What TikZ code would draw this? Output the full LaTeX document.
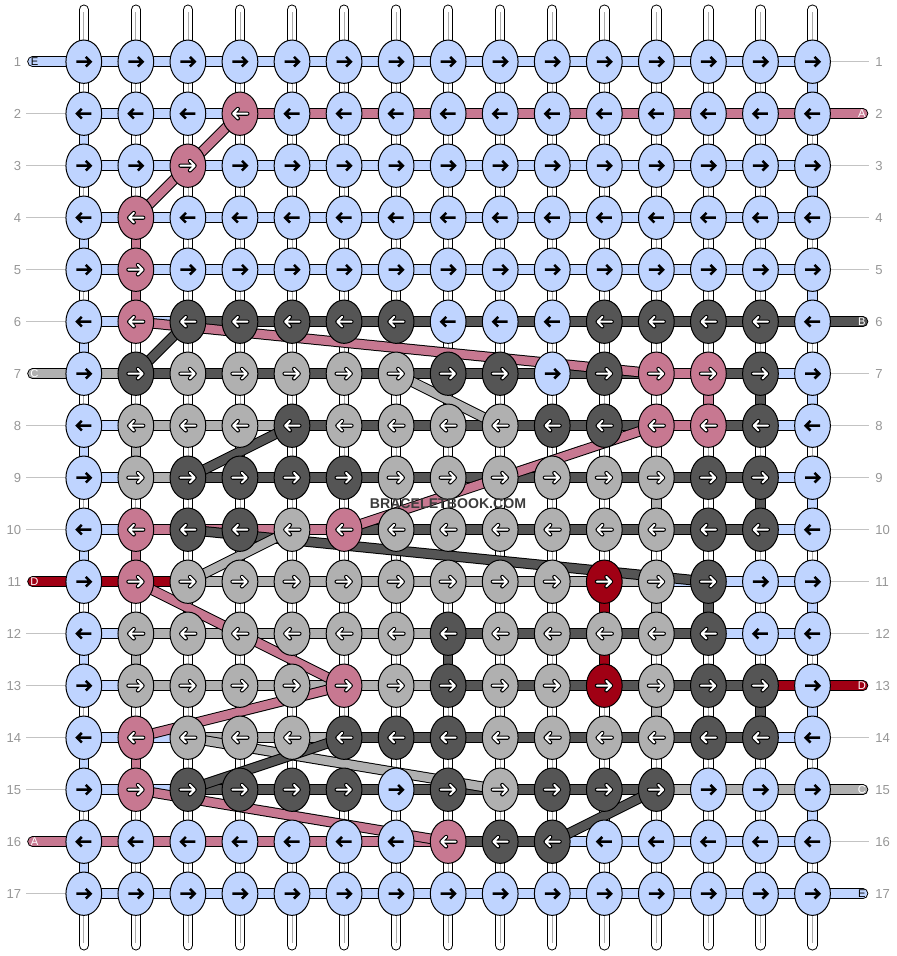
\documentclass[tikz,border=0pt]{standalone}
\usepackage{fontspec}
\setmainfont{Liberation Sans}
\usetikzlibrary{shapes.geometric}

\definecolor{sB}{RGB}{191,212,255}
\definecolor{sP}{RGB}{199,120,145}
\definecolor{sD}{RGB}{85,85,85}
\definecolor{sL}{RGB}{176,176,176}
\definecolor{sR}{RGB}{160,0,20}
\definecolor{numgray}{RGB}{150,150,150}
\definecolor{linegray}{RGB}{195,195,195}
\definecolor{warpgray}{RGB}{170,170,170}
\definecolor{markgray}{RGB}{60,60,60}

\pgfdeclarelayer{warp}
\pgfdeclarelayer{strand}
\pgfsetlayers{warp,strand,main}

\def\blueknot{B}

\begin{document}
\begin{tikzpicture}[x=0.75pt,y=0.75pt,yscale=-1,xscale=1,
	knot/.style={ellipse, draw=black, line width=0.75pt, minimum width=26.8pt, minimum height=32.5pt, inner sep=0pt},
	strand/.style={draw=black, line width=0.75pt, double=#1, double distance=6.4pt},
	warp/.style={draw=black, line width=0.75pt, double=white, double distance=6.3pt, line cap=round},
	warpmid/.style={draw=warpgray, line width=0.6pt, shorten <=2pt, shorten >=2pt},
	arrB/.style={draw=black, line width=1.9pt},
	arrW/.style={draw=white, line width=1.5pt, line cap=round, line join=round, preaction={draw=black, line width=3.1pt, line cap=round, line join=round}},
	rowline/.style={draw=linegray, line width=0.75pt},
	rownum/.style={text=numgray, font=\fontsize{9.8}{11}\selectfont, inner sep=0pt},
	endtag/.style={font=\fontsize{8.4}{9}\selectfont, inner sep=0pt},
	]
	\useasboundingbox (0,0) rectangle (896,956);
	
	% Knots
	\foreach \row [count=\r] in {
		{B,B,B,B,B,B,B,B,B,B,B,B,B,B,B},
		{B,B,B,P,B,B,B,B,B,B,B,B,B,B,B},
		{B,B,P,B,B,B,B,B,B,B,B,B,B,B,B},
		{B,P,B,B,B,B,B,B,B,B,B,B,B,B,B},
		{B,P,B,B,B,B,B,B,B,B,B,B,B,B,B},
		{B,P,D,D,D,D,D,B,B,B,D,D,D,D,B},
		{B,D,L,L,L,L,L,D,D,B,D,P,P,D,B},
		{B,L,L,L,D,L,L,L,L,D,D,P,P,D,B},
		{B,L,D,D,D,D,L,L,L,L,L,L,D,D,B},
		{B,P,D,D,L,P,L,L,L,L,L,L,D,D,B},
		{B,P,L,L,L,L,L,L,L,L,R,L,D,B,B},
		{B,L,L,L,L,L,L,D,L,L,L,L,D,B,B},
		{B,L,L,L,L,P,L,D,L,L,R,L,D,D,B},
		{B,P,L,L,L,D,D,D,L,L,L,L,D,D,B},
		{B,P,D,D,D,D,B,D,L,D,D,D,B,B,B},
		{B,B,B,B,B,B,B,P,D,D,B,B,B,B,B},
		{B,B,B,B,B,B,B,B,B,B,B,B,B,B,B}}{
		\pgfmathsetmacro\y{9.7+52*\r}
		\pgfmathsetmacro\dir{1-2*mod(\r+1,2)}
		\foreach \k [count=\c] in \row {
			\pgfmathsetmacro\x{31.75+52.05*\c}
			\node[knot, fill=s\k] (k-\r-\c) at (\x,\y) {};
			\edef\kk{\k}
			\ifx\kk\blueknot \def\arrsty{arrB}\else\def\arrsty{arrW}\fi
			\draw[\arrsty, shift={(\x,\y)}, xscale=\dir] (-7.5,0) -- (6.3,0) (2,-4.8) -- (6.8,0) -- (2,4.8);
		}
	}
	
	% Warp strands
	\begin{pgfonlayer}{warp}
		\foreach \c in {1,...,15}{
			\coordinate (wt-\c) at ({31.75+52.05*\c},9.7);
			\coordinate (wb-\c) at ({31.75+52.05*\c},945.3);
			\draw[warp] (wt-\c) -- (wb-\c);
			\draw[warpmid] (wt-\c) -- (wb-\c);
		}
	\end{pgfonlayer}
	
	\begin{pgfonlayer}{strand}
		%Straight Lines (down)
		\foreach \r/\c/\h in {1/15/B, 2/1/B, 3/15/B, 4/1/B, 4/2/P, 5/15/B, 5/2/P, 6/1/B,
			7/15/B, 7/13/P, 7/14/D, 8/1/B, 8/2/L, 9/15/B, 9/12/L, 9/14/D, 10/1/B, 10/2/P,
			11/15/B, 11/11/R, 11/12/L, 11/13/D, 12/1/B, 12/2/L, 12/8/D, 12/11/R,
			13/15/B, 13/12/L, 13/14/D, 14/1/B, 14/2/P, 15/15/B, 16/1/B}{
			\pgfmathtruncatemacro\n{\r+1}
			\draw[strand=s\h] (k-\r-\c.center) -- (k-\n-\c.center);
		}
		%Straight Lines (across)
		\foreach \row [count=\r] in {
			{B,B,B,B,B,B,B,B,B,B,B,B,B,B},
			{B,B,B,P,P,P,P,P,P,P,P,P,P,P},
			{B,B,B,B,B,B,B,B,B,B,B,B,B,B},
			{B,B,B,B,B,B,B,B,B,B,B,B,B,B},
			{B,B,B,B,B,B,B,B,B,B,B,B,B,B},
			{B,B,D,D,D,D,D,D,D,D,D,D,D,D},
			{L,D,D,D,D,D,D,D,D,D,D,P,D,B},
			{B,L,L,L,D,D,D,D,D,D,D,P,D,B},
			{B,L,D,D,D,D,D,D,D,D,D,D,D,B},
			{B,P,P,P,P,D,D,D,D,D,D,D,D,B},
			{R,R,L,L,L,L,L,L,L,L,L,B,B,B},
			{B,L,L,L,L,L,L,D,D,D,D,D,B,B},
			{B,L,L,L,L,L,L,D,D,D,D,D,D,R},
			{B,B,L,L,L,D,D,D,D,D,D,D,D,B},
			{B,B,D,D,D,D,D,D,D,D,D,L,L,L},
			{P,P,P,P,P,P,P,D,D,B,B,B,B,B},
			{B,B,B,B,B,B,B,B,B,B,B,B,B,B}}{
			\foreach \h [count=\c] in \row {
				\pgfmathtruncatemacro\n{\c+1}
				\draw[strand=s\h] (k-\r-\c.center) -- (k-\r-\n.center);
			}
		}
		% Strings at the edges
		\foreach \r/\h/\t/\tc in {1/B/E/black, 7/L/C/white, 11/R/D/white, 16/P/A/white}{
			\coordinate (le-\r) at (32.5,{9.7+52*\r});
			\draw[strand=s\h, line cap=round] (le-\r) -- (k-\r-1.center);
			\node[endtag, text=\tc] (tl-\r) at ([xshift=1.5pt]le-\r) {\t};
		}
		\foreach \r/\h/\t/\tc in {2/P/A/white, 6/D/B/white, 13/R/D/white, 15/L/C/white, 17/B/E/black}{
			\coordinate (re-\r) at (863,{9.7+52*\r});
			\draw[strand=s\h, line cap=round] (k-\r-15.center) -- (re-\r);
			\node[endtag, text=\tc] (tr-\r) at ([xshift=-0.8pt]re-\r) {\t};
		}
		\foreach \r in {2,3,4,5,6,8,9,10,12,13,14,15,17}{
			\coordinate (ll-\r) at (26,{9.7+52*\r});
			\draw[rowline] (ll-\r) -- (k-\r-1);
		}
		\foreach \r in {1,3,4,5,7,8,9,10,11,12,14,16}{
			\coordinate (rl-\r) at (869,{9.7+52*\r});
			\draw[rowline] (k-\r-15) -- (rl-\r);
		}
		%Straight Lines (carried)
		\foreach \ra/\ca/\rb/\cb/\h in {2/4/3/3/P, 3/3/4/2/P, 6/2/7/12/P, 6/3/7/2/D, 7/7/8/9/L,
			8/5/9/3/D, 8/12/10/6/P, 10/3/11/13/D, 10/5/11/3/L, 11/2/13/6/P, 13/6/14/2/P,
			14/3/15/9/L, 15/3/14/6/D, 15/2/16/8/P, 15/12/16/10/D}{
			\draw[strand=s\h] (k-\ra-\ca.center) -- (k-\rb-\cb.center);
		}
	\end{pgfonlayer}
	
	% Text Node
	\foreach \r in {1,...,17}{
		\node[rownum, anchor=east] (nl-\r) at (21.5,{9.7+52*\r}) {\r};
		\node[rownum, anchor=west] (nr-\r) at (875,{9.7+52*\r}) {\r};
	}
	% Text Node
	\node[font=\bfseries\fontsize{10.6}{12}\selectfont, text=markgray] (mark) at (448,503.5) {BRACELETBOOK.COM};
	
\end{tikzpicture}
\end{document}
